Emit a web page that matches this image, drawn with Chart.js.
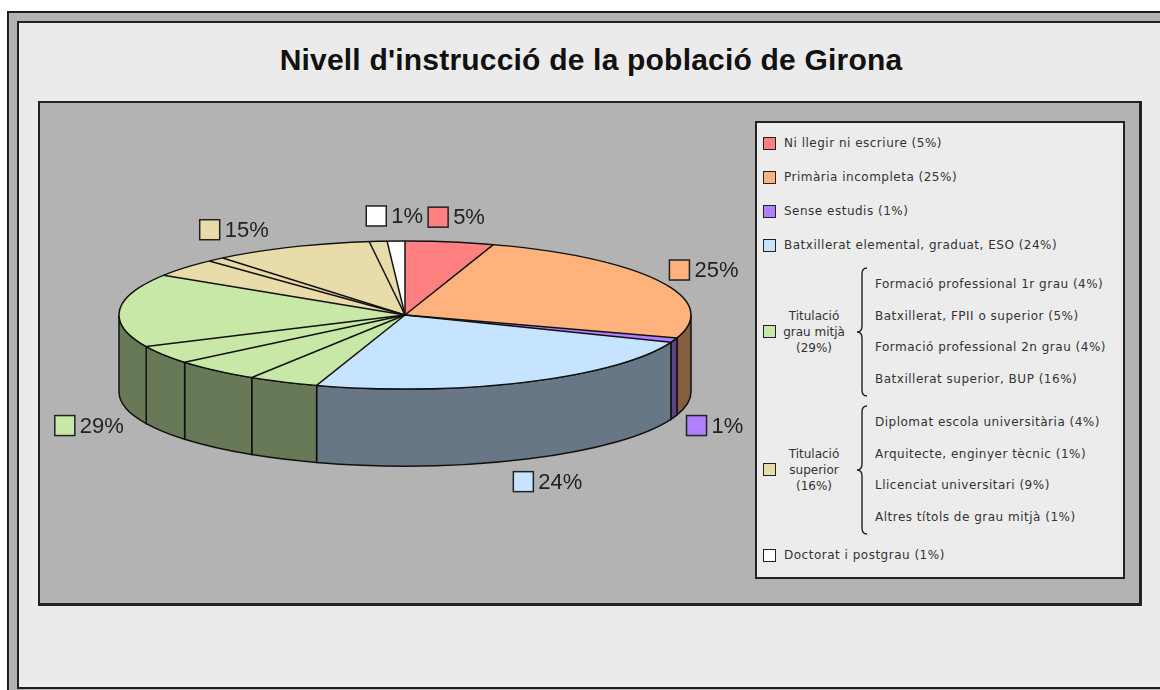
<!DOCTYPE html>
<html>
<head>
<meta charset="utf-8">
<script src="https://cdn.jsdelivr.net/npm/chart.js@4.4.1/dist/chart.umd.min.js"></script>
<style>
  body { margin: 0; background: #fff; }
  #wrap { position: relative; width: 1160px; height: 690px; overflow: hidden; font-family: "DejaVu Sans", sans-serif; }
  .abs { position: absolute; box-sizing: border-box; }
  #outer { left: 7px; top: 11px; width: 1200px; height: 720px; background: #b2b2b2; border: 2px solid #1e1e1e; }
  #inner { left: 17px; top: 21px; width: 1200px; height: 668px; background: #ebebeb; border: 2px solid #222; }
  #title { left: 0; top: 43px; width: 1182px; text-align: center; font: bold 30px "Liberation Sans", Arial, sans-serif; letter-spacing: 0.2px; line-height: 34px; color: #111; }
  #plot { left: 38px; top: 101px; width: 1104px; height: 505px; background: #b3b3b3; border: 2px solid #222; border-right-width: 3px; border-bottom-width: 3px; }
  #legend { left: 755px; top: 121px; width: 370px; height: 458px; background: #ececec; border: 2px solid #222; padding-top: 4px; color: #333; font-size: 12px; letter-spacing: 0.5px; }
  canvas { position: absolute; left: 0; top: 0; }
  .row { position: relative; height: 34px; }
  .sq { position: absolute; left: 6px; width: 13px; height: 13px; box-sizing: border-box; border: 1.5px solid #222; }
  .row .sq { top: 10px; }
  .row .txt { position: absolute; left: 27px; top: 9px; white-space: nowrap; }
  .grp { position: relative; padding: 6px 0; }
  .grp .sq { top: 50%; margin-top: -7px; }
  .gname { position: absolute; left: 18px; width: 78px; top: 50%; transform: translateY(-50%); text-align: center; line-height: 16px; letter-spacing: 0; }
  .brace { position: absolute; left: 98px; top: 4px; }
  .sub { position: relative; height: 31.5px; }
  .sub .txt { position: absolute; left: 118px; top: 8px; white-space: nowrap; }
</style>
</head>
<body>
<div id="wrap">
  <div id="outer" class="abs"></div>
  <div id="inner" class="abs"></div>
  <div id="title" class="abs">Nivell d'instrucció de la població de Girona</div>
  <div id="plot" class="abs"></div>
  <div id="legend" class="abs"></div>
  <canvas id="c" width="1160" height="690"></canvas>
</div>
<script>
// slices, clockwise from 12 o'clock
const categories = [
  'Ni llegir ni escriure', 'Primària incompleta', 'Sense estudis',
  'Batxillerat elemental, graduat, ESO',
  'Formació professional 1r grau', 'Batxillerat, FPII o superior',
  'Formació professional 2n grau', 'Batxillerat superior, BUP',
  'Diplomat escola universitària', 'Arquitecte, enginyer tècnic',
  'Llicenciat universitari', 'Altres títols de grau mitjà',
  'Doctorat i postgrau'
];
const values = [5, 25, 1, 24, 4, 5, 4, 16, 4, 1, 9, 1, 1];
const groupOf = [0, 1, 2, 3, 4, 4, 4, 4, 5, 5, 5, 5, 6];
const groupNames = ['Ni llegir ni escriure', 'Primària incompleta', 'Sense estudis',
  'Batxillerat elemental, graduat, ESO', 'Titulació grau mitjà', 'Titulació superior',
  'Doctorat i postgrau'];
const groupLegendPct = [5, 25, 1, 24, 29, 16, 1];

const groupColors = ['#ff8080', '#ffb27c', '#b180ff', '#c6e4ff', '#c8e8a8', '#e8dcaa', '#ffffff'];
const tilt = 0.259;   // vertical squash of the pie
const depth = 77;     // thickness of the pie in px

function darken(hex, f) {
  const n = parseInt(hex.slice(1), 16);
  const r = Math.round((n >> 16) * f), g = Math.round(((n >> 8) & 255) * f), b = Math.round((n & 255) * f);
  return `rgb(${r},${g},${b})`;
}

// ---- legend (html) ----
const legend = document.getElementById('legend');
function sq(color) { return `<div class="sq" style="background:${color}"></div>`; }
function brace(h) {
  const m = h / 2;
  return `<svg class="brace" width="14" height="${h}"><path d="M12 1 Q7 1 7 7 L7 ${m - 6} Q7 ${m} 2 ${m} Q7 ${m} 7 ${m + 6} L7 ${h - 7} Q7 ${h - 1} 12 ${h - 1}" fill="none" stroke="#222" stroke-width="1.4"/></svg>`;
}
let html = '';
groupNames.forEach((name, g) => {
  const idx = categories.map((c, i) => i).filter(i => groupOf[i] === g);
  if (idx.length === 1) {
    html += `<div class="row">${sq(groupColors[g])}<span class="txt">${name} (${groupLegendPct[g]}%)</span></div>`;
  } else {
    const words = name.split(' ');
    const nm = words[0] + '<br>' + words.slice(1).join(' ') + '<br>(' + groupLegendPct[g] + '%)';
    let subs = idx.map(i => `<div class="sub"><span class="txt">${categories[i]} (${values[i]}%)</span></div>`).join('');
    html += `<div class="grp">${sq(groupColors[g])}<div class="gname">${nm}</div>${brace(idx.length * 31.5 + 4)}${subs}</div>`;
  }
});
legend.innerHTML = html;

// ---- 3d pie plugin ----
const pie3d = {
  id: 'pie3d',
  beforeDatasetsDraw(chart) {
    const ctx = chart.ctx;
    const arcs = chart.getDatasetMeta(0).data;
    const cx = arcs[0].x, cy = arcs[0].y, rx = arcs[0].outerRadius, ry = rx * tilt;
    ctx.save();
    ctx.lineWidth = 1.5;
    ctx.strokeStyle = '#111';
    arcs.forEach((arc, i) => {
      for (const off of [0, 2 * Math.PI, -2 * Math.PI]) {
        const a = Math.max(arc.startAngle + off, 0);
        const b = Math.min(arc.endAngle + off, Math.PI);
        if (b <= a) continue;
        ctx.beginPath();
        ctx.ellipse(cx, cy, rx, ry, 0, a, b);
        ctx.lineTo(cx + rx * Math.cos(b), cy + depth + ry * Math.sin(b));
        ctx.ellipse(cx, cy + depth, rx, ry, 0, b, a, true);
        ctx.closePath();
        ctx.fillStyle = darken(groupColors[groupOf[i]], 0.52);
        ctx.fill();
        ctx.stroke();
      }
    });
    ctx.restore();
    ctx.save();
    ctx.translate(cx, cy);
    ctx.scale(1, tilt);
    ctx.translate(-cx, -cy);
  },
  afterDatasetsDraw(chart) {
    const ctx = chart.ctx;
    ctx.restore();
    const arcs = chart.getDatasetMeta(0).data;
    const cx = arcs[0].x, cy = arcs[0].y, rx = arcs[0].outerRadius, ry = rx * tilt;
    ctx.save();
    ctx.lineWidth = 1.5;
    ctx.strokeStyle = '#111';
    arcs.forEach(arc => {
      ctx.beginPath();
      ctx.moveTo(cx, cy);
      ctx.lineTo(cx + rx * Math.cos(arc.startAngle), cy + ry * Math.sin(arc.startAngle));
      ctx.stroke();
    });
    ctx.beginPath();
    ctx.ellipse(cx, cy, rx, ry, 0, 0, Math.PI * 2);
    ctx.stroke();

    // percent labels per group
    ctx.font = '22px "Liberation Sans", Arial, sans-serif';
    ctx.textBaseline = 'middle';
    const boxes = groupNames.map((n, g) => {
      const idx = arcs.map((a, i) => i).filter(i => groupOf[i] === g);
      const sum = idx.reduce((s, i) => s + values[i], 0);
      const mid = (arcs[idx[0]].startAngle + arcs[idx[idx.length - 1]].endAngle) / 2;
      const cos = Math.cos(mid), sin = Math.sin(mid);
      const text = sum + '%';
      const w = 20 + 5 + ctx.measureText(text).width;
      const ax = cx + (rx + 15) * cos;
      const ay = cy + (ry + 25) * sin + (sin > 0 ? depth : 0);
      return { g, text, w, h: 21, x: ax - w / 2 + (w / 2) * cos, y: ay };
    });
    for (let i = 0; i < boxes.length; i++) {
      for (let j = i + 1; j < boxes.length; j++) {
        const A = boxes[i], B = boxes[j];
        if (A.x < B.x + B.w && B.x < A.x + A.w && Math.abs(A.y - B.y) < A.h + 4) {
          A.y = B.y - A.h - 8;
        }
      }
    }
    boxes.forEach(b => {
      ctx.fillStyle = groupColors[b.g];
      ctx.fillRect(b.x, b.y - 10, 20, 20);
      ctx.lineWidth = 1.5;
      ctx.strokeStyle = '#222';
      ctx.strokeRect(b.x, b.y - 10, 20, 20);
      ctx.fillStyle = '#222';
      ctx.textAlign = 'left';
      ctx.fillText(b.text, b.x + 25, b.y + 1);
    });
    ctx.restore();
  }
};

new Chart(document.getElementById('c'), {
  type: 'pie',
  data: {
    labels: categories,
    datasets: [{
      data: values,
      backgroundColor: groupOf.map(g => groupColors[g]),
      borderWidth: 0
    }]
  },
  options: {
    responsive: false,
    animation: false,
    events: [],
    layout: { padding: { left: 119, right: 469, top: 29, bottom: 89 } },
    plugins: { legend: { display: false }, tooltip: { enabled: false } }
  },
  plugins: [pie3d]
});
</script>
</body>
</html>
